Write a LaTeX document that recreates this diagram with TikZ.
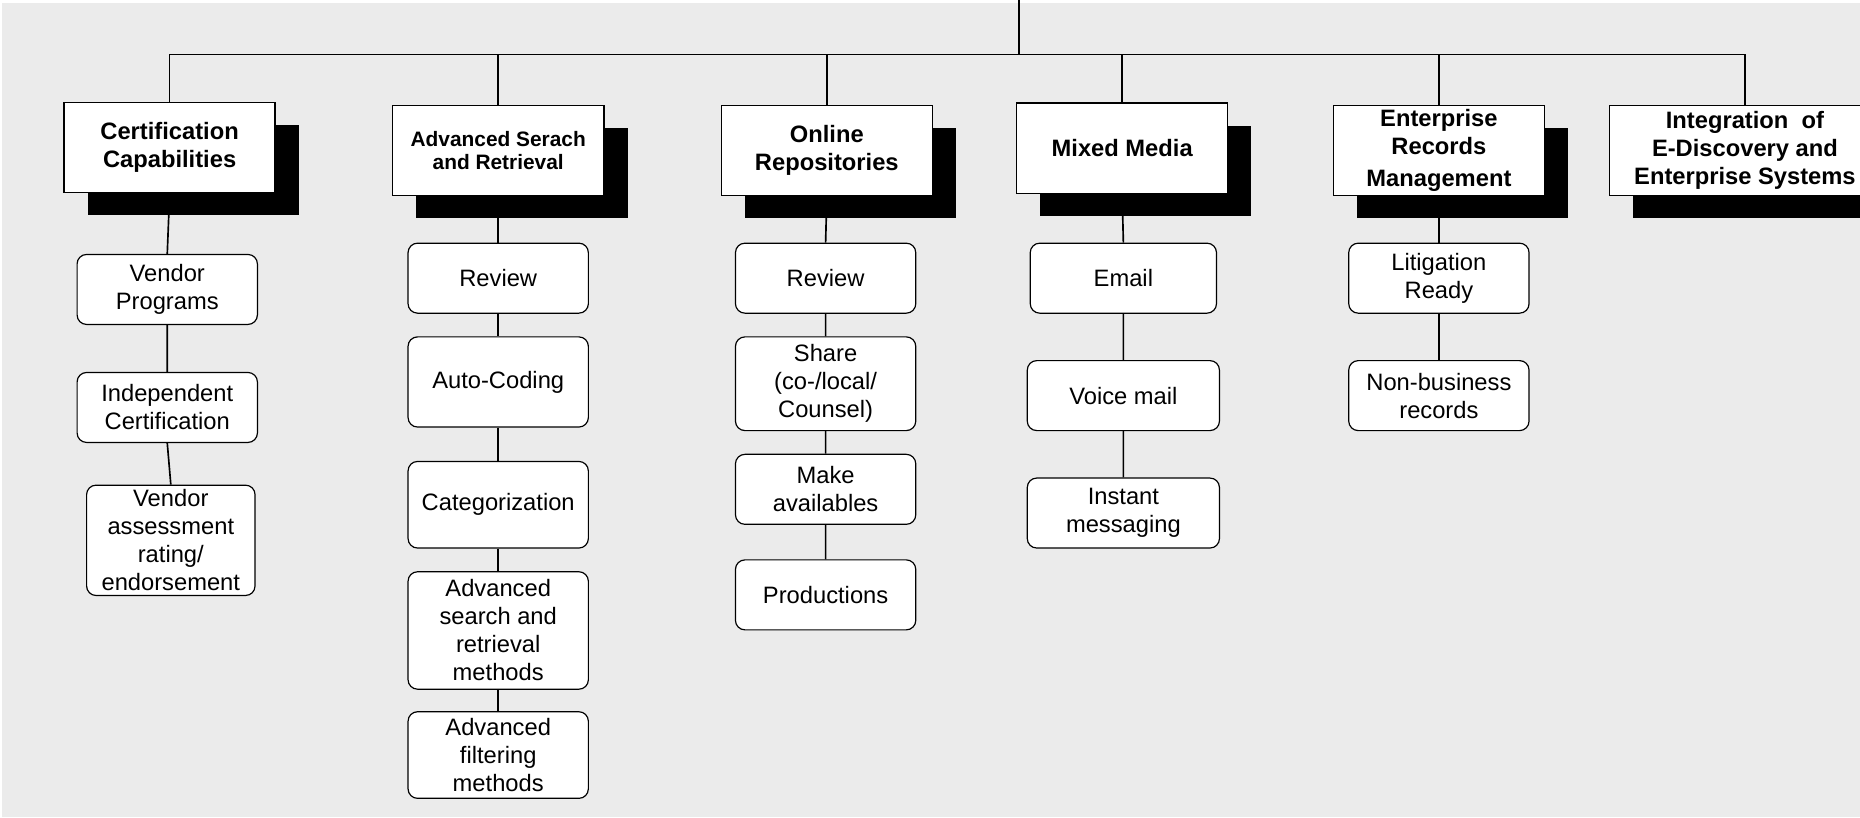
\documentclass[tikz,border=0pt]{standalone}
\usepackage{fontspec}
\setmainfont{Liberation Sans}
\usetikzlibrary{shadows}
\definecolor{paper}{RGB}{235,235,235}
\newcommand{\itemw}{76pt}
\newcommand{\headw}{89pt}

\begin{document}
\begin{tikzpicture}[x=0.5pt,y=-0.5pt,
    head/.style={draw, fill=white, line width=0.6pt, inner sep=0pt,
      minimum width=\headw, minimum height=38pt, align=center,
      font=\bfseries\fontsize{10}{11.8}\selectfont,
      drop shadow={shadow xshift=10pt, shadow yshift=-9.5pt, opacity=1, fill=black}},
    item/.style={draw, fill=white, rounded corners=4pt, line width=0.5pt,
      inner sep=0pt, minimum width=\itemw, minimum height=29.5pt, align=center,
      font=\fontsize{10}{11.8}\selectfont},
    link/.style={line width=0.7pt}]
        %\draw[help lines] (0,0) grid (1568,689);
        \path[use as bounding box, clip] (0,0) rectangle (1568,689);
        \fill[paper] (1.5,2.5) rectangle (1568,689);
        \coordinate (top) at (859,0);
        \coordinate (bar) at (859,46);

        % headings
        \node[head] (h1) at (143,124.5) {Certification\\Capabilities};
        \node[head, font=\bfseries\fontsize{8.8}{10}\selectfont] (h2) at (420,127) {Advanced Serach\\and Retrieval};
        \node[head] (h3) at (697,127) {Online\\Repositories};
        \node[head] (h4) at (946,125) {Mixed Media};
        \node[head] (h5) at (1213,127) {Enterprise\\Records\\[0.3ex]Management};
        \node[head, minimum width=114pt] (h6) at (1471,127) {Integration\ \ of\\E-Discovery and\\Enterprise Systems};

        % certification
        \node[item] (vp) at (141,244) {Vendor\\Programs};
        \node[item] (ic) at (141,343.5) {Independent\\Certification};
        \node[item, minimum width=71pt, minimum height=46.5pt] (va) at (144,455.5) {Vendor\\assessment\\rating/\\endorsement};

        % search and retrieval
        \node[item] (sr1) at (420,234.5) {Review};
        \node[item, minimum height=38pt] (sr2) at (420,322) {Auto-Coding};
        \node[item, minimum height=36.5pt] (sr3) at (420,425.5) {Categorization};
        \node[item, minimum height=49.5pt] (sr4) at (420,531.5) {Advanced\\search and\\retrieval\\methods};
        \node[item, minimum height=36.5pt] (sr5) at (420,636.5) {Advanced\\filtering\\methods};

        % repositories
        \node[item] (or1) at (696,234.5) {Review};
        \node[item, minimum height=39.5pt] (or2) at (696,323.5) {Share\\(co-/local/\\Counsel)};
        \node[item] (or3) at (696,412.5) {Make\\availables};
        \node[item] (or4) at (696,501.5) {Productions};

        % media
        \node[item, minimum width=78.5pt] (mm1) at (947,234.5) {Email};
        \node[item, minimum width=81pt] (mm2) at (947,333.5) {Voice mail};
        \node[item, minimum width=81pt] (mm3) at (947,432.5) {Instant\\messaging};

        % records
        \node[item] (rm1) at (1213,234.5) {Litigation\\Ready};
        \node[item] (rm2) at (1213,333.5) {Non-business\\records};

        % tree lines
        \draw[link] (top) -- (bar);
        \draw[link] (h1.north) |- (bar) -| (h6.north);
        \foreach \h in {h2,h3,h4,h5}
          \draw[link] (\h.north) -- (\h.north |- bar);
        \draw[link] (h1.south) -- (vp.north) (vp.south) -- (ic.north) (ic.south) -- (va.north);
        \draw[link] (h2.south) -- (sr1.north) (sr1.south) -- (sr2.north) (sr2.south) -- (sr3.north)
          (sr3.south) -- (sr4.north) (sr4.south) -- (sr5.north);
        \draw[link] (h3.south) -- (or1.north) (or1.south) -- (or2.north) (or2.south) -- (or3.north)
          (or3.south) -- (or4.north);
        \draw[link] (h4.south) -- (mm1.north) (mm1.south) -- (mm2.north) (mm2.south) -- (mm3.north);
        \draw[link] (h5.south) -- (rm1.north) (rm1.south) -- (rm2.north);
\end{tikzpicture}
\end{document}
